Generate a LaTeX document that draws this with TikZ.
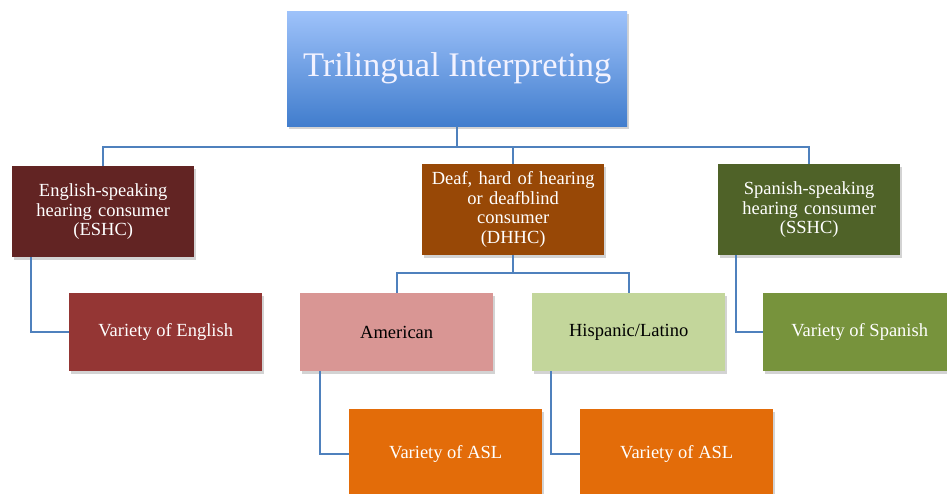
\documentclass[tikz,border=0pt]{standalone}
\usepackage{fontspec}
\setmainfont{Liberation Serif}
\usetikzlibrary{positioning,calc,shadows}

\definecolor{linkblue}{HTML}{4F81BD}
\definecolor{eshccol}{HTML}{622423}
\definecolor{dhhccol}{HTML}{984806}
\definecolor{sshccol}{HTML}{4F6228}
\definecolor{engcol}{HTML}{943634}
\definecolor{amercol}{HTML}{D99694}
\definecolor{hispcol}{HTML}{C3D69B}
\definecolor{spancol}{HTML}{77933C}
\definecolor{aslcol}{HTML}{E36C09}
\definecolor{topcol}{HTML}{9EC2FA}
\definecolor{botcol}{HTML}{417DCD}

\tikzset{
  box/.style={rectangle, anchor=north west, inner sep=2pt, align=center,
    text=white, font=\fontsize{18.5}{19.5}\selectfont,
    drop shadow={opacity=0.35, shadow xshift=2pt, shadow yshift=-3pt}},
  consumer/.style={box, minimum width=182pt, minimum height=91pt, text width=178pt},
  variety/.style={box, minimum width=193pt, minimum height=78pt},
  link/.style={draw=linkblue, line width=1.6pt}
}

\begin{document}
\begin{tikzpicture}[x=1pt,y=-1pt]
	\useasboundingbox (0,0) rectangle (947,494);

	% top
	\node[box, minimum width=340pt, minimum height=115pt, top color=topcol, bottom color=botcol,
	      font=\fontsize{34.5}{38}\selectfont, text=white!95!blue] (title) at (287,11) {Trilingual Interpreting};

	% consumers
	\node[consumer, fill=eshccol] (eshc) at (12,166) {English-speaking\\hearing consumer\\(ESHC)};
	\node[consumer, fill=dhhccol] (dhhc) at (422,164) {Deaf, hard of hearing\\or deafblind\\consumer\\(DHHC)};
	\node[consumer, fill=sshccol] (sshc) at (718,164) {Spanish-speaking\\hearing consumer\\(SSHC)};

	% second row
	\node[variety, fill=engcol] (eng) at (69,293) {Variety of English};
	\node[variety, fill=amercol, text=black] (amer) at (300,293) {American};
	\node[variety, fill=hispcol, text=black] (hisp) at (532,293) {Hispanic/Latino};
	\node[variety, fill=spancol] (span) at (763,293) {Variety of Spanish};

	% third row
	\node[variety, minimum height=90pt, fill=aslcol] (asla) at (349,409) {Variety of ASL};
	\node[variety, minimum height=90pt, fill=aslcol] (aslb) at (580,409) {Variety of ASL};

	% links
	\coordinate (bus) at (title.south |- 0,147);
	\coordinate (dbus) at (dhhc.south |- 0,273);
	\draw[link] (title.south) -- (bus);
	\draw[link] (eshc.north) |- (bus) -| (sshc.north);
	\draw[link] (bus) -| (dhhc.north);
	\draw[link] (dhhc.south) -- (dbus);
	\draw[link] (amer.north) |- (dbus) -| (hisp.north);
	\draw[link] ($(eshc.south west)+(19,0)$) |- (eng.west);
	\draw[link] ($(sshc.south west)+(18,0)$) |- (span.west);
	\draw[link] ($(amer.south west)+(20,0)$) |- (asla.west);
	\draw[link] ($(hisp.south west)+(19,0)$) |- (aslb.west);

\end{tikzpicture}
\end{document}
